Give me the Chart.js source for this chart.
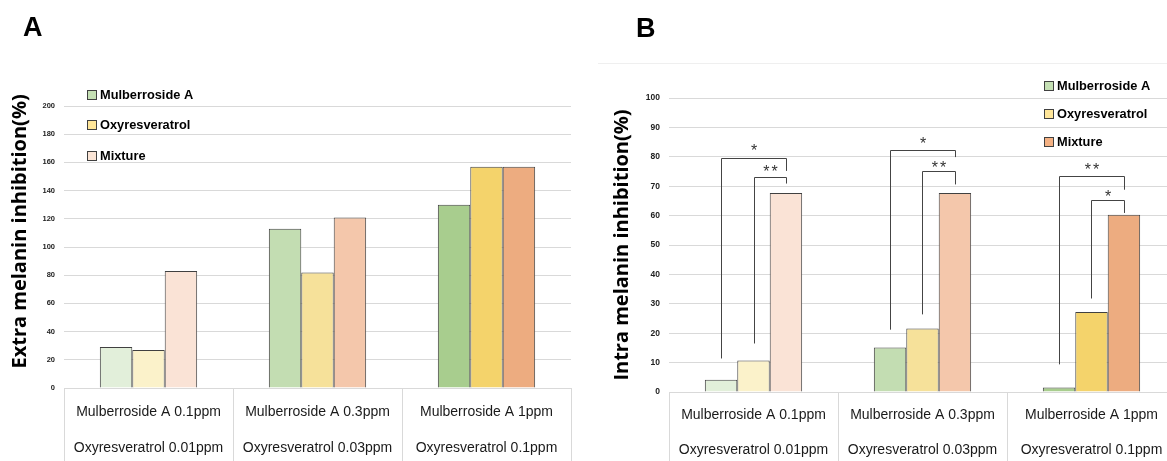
<!DOCTYPE html>
<html>
<head>
<meta charset="utf-8">
<script src="https://cdn.jsdelivr.net/npm/chart.js@4.4.0/dist/chart.umd.min.js"></script>
<style>
  body { margin: 0; width: 1167px; height: 461px; overflow: hidden; background: #fff; position: relative; }
  canvas { position: absolute; top: 0; }
  #chartA { left: 0; }
  #chartB { left: 600px; }
  .tag { position: absolute; font: bold 27px 'Liberation Sans', Arial, sans-serif; line-height: 27px; color: #000; }
  #frameB { position: absolute; left: 598px; top: 63px; width: 569px; border-top: 1px solid #efefef; }
</style>
</head>
<body>
<div id="frameB"></div>
<canvas id="chartA" width="590" height="461"></canvas>
<canvas id="chartB" width="590" height="461"></canvas>
<div class="tag" style="left:23px;top:14px">A</div>
<div class="tag" style="left:636px;top:15px">B</div>
<script>
// categories (two-line labels)
var categories = [
    ["Mulberroside A 0.1ppm", "Oxyresveratrol 0.01ppm"],
    ["Mulberroside A 0.3ppm", "Oxyresveratrol 0.03ppm"],
    ["Mulberroside A 1ppm", "Oxyresveratrol 0.1ppm"]
];
var seriesNames = ["Mulberroside A", "Oxyresveratrol", "Mixture"];

// panel A - extra melanin inhibition (%)
var extraMulberroside = [29, 113, 130];
var extraOxyresveratrol = [27, 82, 157];
var extraMixture = [83, 121, 157];
var extraTicks = [0, 20, 40, 60, 80, 100, 120, 140, 160, 180, 200];

// panel B - intra melanin inhibition (%)
var intraMulberroside = [4.2, 15.1, 1.5];
var intraOxyresveratrol = [10.7, 21.6, 27.2];
var intraMixture = [67.7, 67.7, 60.3];
var intraTicks = [0, 10, 20, 30, 40, 50, 60, 70, 80, 90, 100];

// significance brackets for panel B (values in % units)
var intraBrackets = [
    {group: 0, from: 0, to: 2, mark: "*",  low: 11.4, top: 79.7, high: 75.2, text: 83.2},
    {group: 0, from: 1, to: 2, mark: "**", low: 16.5, top: 73.1, high: 70.9, text: 76.3},
    {group: 1, from: 0, to: 2, mark: "*",  low: 21.2, top: 82.4, high: 79.9, text: 85.6},
    {group: 1, from: 1, to: 2, mark: "**", low: 26.4, top: 75.2, high: 70.6, text: 77.4},
    {group: 2, from: 0, to: 2, mark: "**", low: 9.4,  top: 73.5, high: 68.8, text: 76.8},
    {group: 2, from: 1, to: 2, mark: "*",  low: 31.8, top: 65.2, high: 60.9, text: 67.8}
];

var sans = "'Liberation Sans', Arial, sans-serif";
var gridColor = "#d9d9d9";
var edge = "#404040";

var greens = ["#e2efda", "#c3ddb2", "#a8cd8e"];
var yellows = ["#fbf2ca", "#f6e19a", "#f4d36b"];
var peaches = ["#fae3d6", "#f4c7ab", "#edac80"];

var keyBox = {
    id: "keyBox",
    afterDraw: function(chart, args, opts) {
        var ctx = chart.ctx;
        ctx.save();
        ctx.font = "bold 12.8px " + sans;
        ctx.textBaseline = "middle";
        chart.data.datasets.forEach(function(ds, i) {
            var y = Math.round(opts.y + i * opts.gap);
            ctx.fillStyle = opts.colors[i];
            ctx.fillRect(opts.x, y - 5, 10, 10);
            ctx.strokeStyle = edge;
            ctx.lineWidth = 1;
            ctx.strokeRect(opts.x + 0.5, y - 4.5, 9, 9);
            ctx.fillStyle = "#000";
            ctx.fillText(ds.label, opts.x + 13, y + 0.5);
        });
        ctx.restore();
    }
};

var brackets = {
    id: "brackets",
    afterDatasetsDraw: function(chart, args, opts) {
        if (!opts.list) return;
        var ctx = chart.ctx;
        var ys = chart.scales.y;
        ctx.save();
        ctx.strokeStyle = "#444";
        ctx.lineWidth = 1;
        ctx.fillStyle = "#333";
        ctx.font = "16px " + sans;
        ctx.letterSpacing = "2px";
        ctx.textAlign = "center";
        ctx.textBaseline = "alphabetic";
        opts.list.forEach(function(b) {
            var xl = Math.round(chart.getDatasetMeta(b.from).data[b.group].x) + 0.5;
            var xr = Math.round(chart.getDatasetMeta(b.to).data[b.group].x) + 0.5;
            var yt = Math.round(ys.getPixelForValue(b.top)) + 0.5;
            ctx.beginPath();
            ctx.moveTo(xl, ys.getPixelForValue(b.low));
            ctx.lineTo(xl, yt);
            ctx.lineTo(xr, yt);
            ctx.lineTo(xr, ys.getPixelForValue(b.high));
            ctx.stroke();
            ctx.fillText(b.mark, (xl + xr) / 2 + 1, ys.getPixelForValue(b.text) + 9);
        });
        ctx.restore();
    }
};

function makeChart(id, cfg) {
    return new Chart(document.getElementById(id), {
        type: "bar",
        data: {
            labels: categories,
            datasets: [
                {label: seriesNames[0], data: cfg.values[0], backgroundColor: greens, borderColor: edge, borderWidth: 1},
                {label: seriesNames[1], data: cfg.values[1], backgroundColor: yellows, borderColor: edge, borderWidth: 1},
                {label: seriesNames[2], data: cfg.values[2], backgroundColor: peaches, borderColor: edge, borderWidth: 1}
            ]
        },
        options: {
            responsive: false,
            animation: false,
            layout: {padding: {top: cfg.top, right: cfg.right, left: 0, bottom: 0}},
            datasets: {bar: {categoryPercentage: 0.576, barPercentage: 1}},
            plugins: {
                legend: {display: false},
                tooltip: {enabled: false},
                keyBox: cfg.key,
                brackets: {list: cfg.brackets}
            },
            scales: {
                x: {
                    grid: {offset: true, drawOnChartArea: false, drawTicks: true, tickLength: cfg.xHeight, color: gridColor},
                    border: {display: true, color: gridColor},
                    ticks: {
                        padding: 6 - cfg.xHeight,
                        color: "#1a1a1a",
                        maxRotation: 0,
                        autoSkip: false,
                        font: {family: sans, size: 14, lineHeight: cfg.lineGap}
                    },
                    afterFit: function(s) { s.height = cfg.xHeight; }
                },
                y: {
                    min: 0,
                    max: cfg.ticks[cfg.ticks.length - 1],
                    afterBuildTicks: function(s) {
                        s.ticks = cfg.ticks.map(function(v) { return {value: v}; });
                    },
                    grid: {color: gridColor, drawTicks: false},
                    border: {display: false},
                    ticks: {padding: 9, color: "#222", font: {family: sans, size: cfg.tickSize, weight: "bold"}},
                    title: {
                        display: true,
                        text: cfg.title,
                        color: "#000",
                        font: {family: "'Open Sans', sans-serif", size: 20, weight: "bold"},
                        padding: {top: cfg.titlePad, bottom: 0}
                    },
                    afterFit: function(s) { s.width = cfg.yWidth; }
                }
            }
        },
        plugins: [keyBox, brackets]
    });
}

makeChart("chartA", {
    values: [extraMulberroside, extraOxyresveratrol, extraMixture],
    ticks: extraTicks,
    title: "      Extra melanin inhibition(%)",
    top: 106, right: 19, yWidth: 64, xHeight: 73, lineGap: "36px",
    tickSize: 7.5, titlePad: 8,
    key: {x: 87, y: 95, gap: 30.3, colors: ["#c5e0b4", "#ffe699", "#fbe5d6"]},
    brackets: null
});

makeChart("chartB", {
    values: [intraMulberroside, intraOxyresveratrol, intraMixture],
    ticks: intraTicks,
    title: "Intra melanin inhibition(%)",
    top: 98, right: 14, yWidth: 69, xHeight: 69, lineGap: "35px",
    tickSize: 8.5, titlePad: 10,
    key: {x: 444, y: 86, gap: 27.8, colors: ["#c5e0b4", "#ffe699", "#f4b183"]},
    brackets: intraBrackets
});
</script>
</body>
</html>
